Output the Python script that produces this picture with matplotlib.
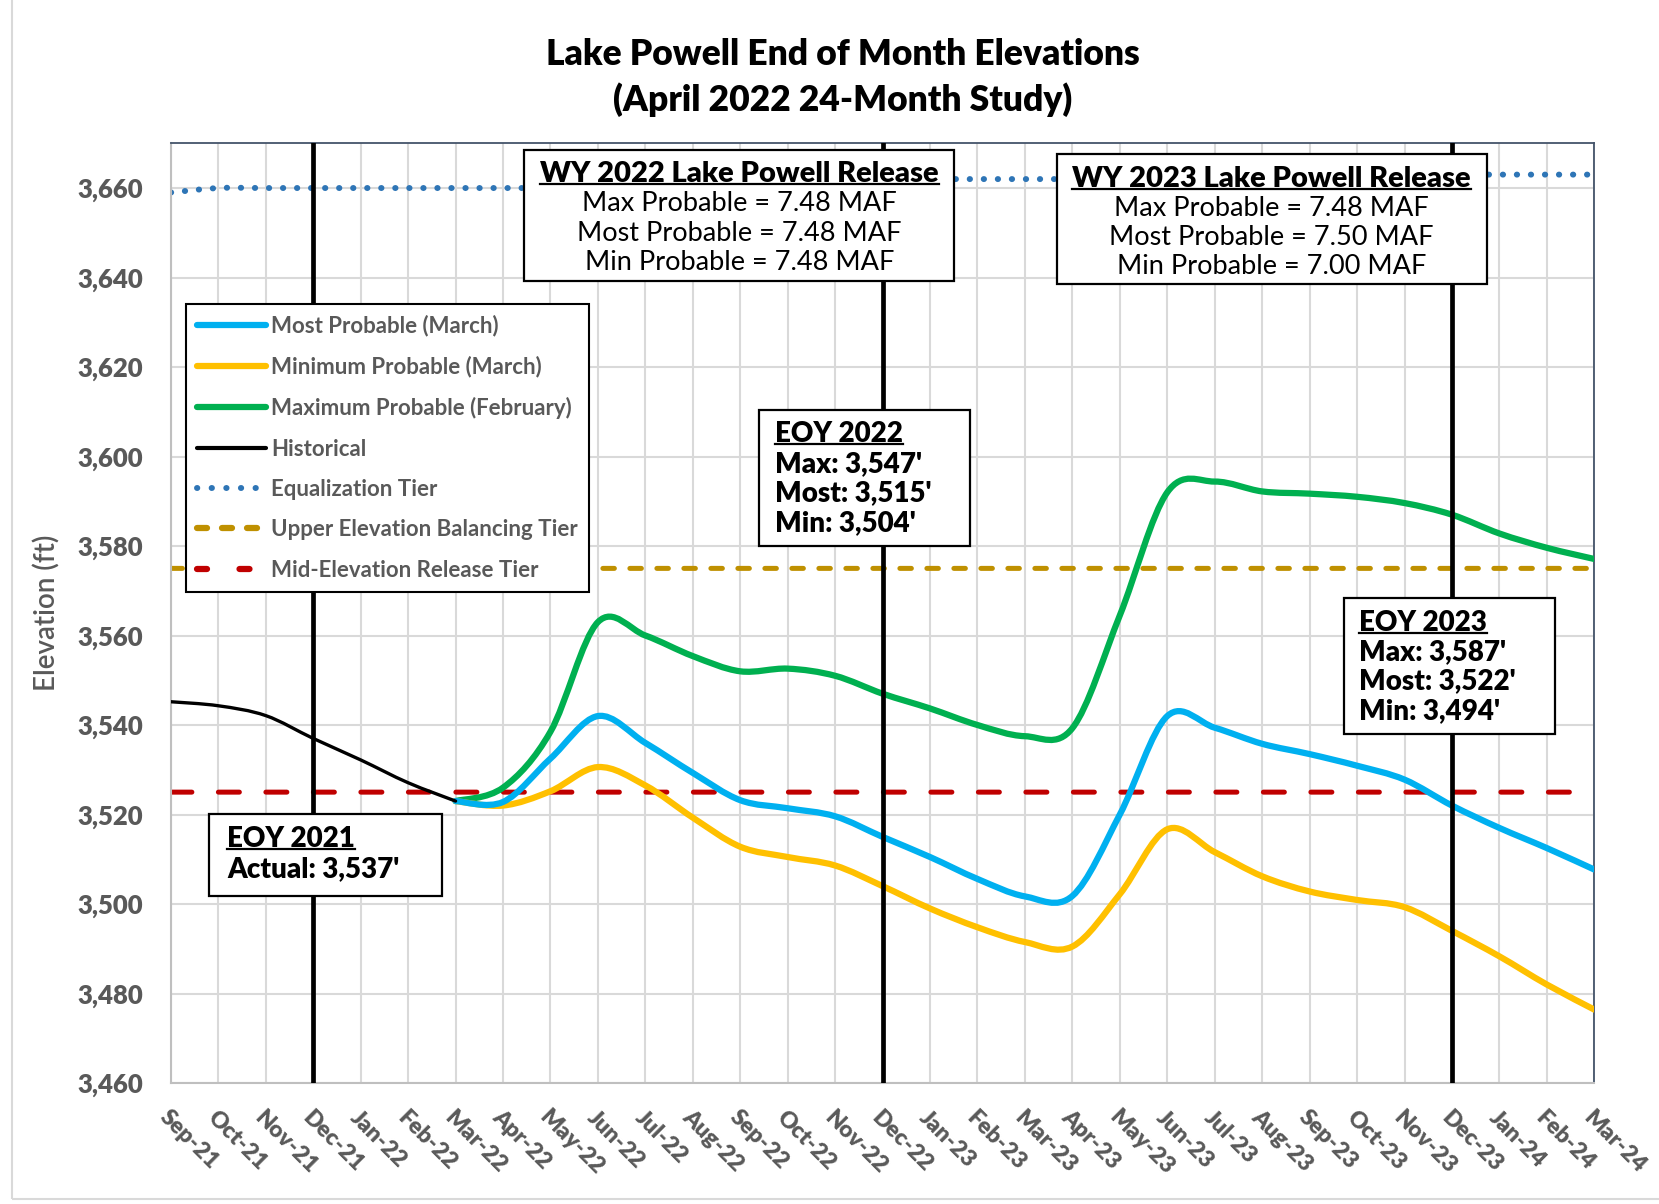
import numpy as np
import matplotlib.pyplot as plt
from matplotlib.path import Path
from matplotlib.patches import PathPatch, Rectangle
from matplotlib.lines import Line2D

plt.rcParams['font.family'] = ['Lato', 'DejaVu Sans']

months = ['Sep-21', 'Oct-21', 'Nov-21', 'Dec-21', 'Jan-22', 'Feb-22', 'Mar-22',
          'Apr-22', 'May-22', 'Jun-22', 'Jul-22', 'Aug-22', 'Sep-22', 'Oct-22',
          'Nov-22', 'Dec-22', 'Jan-23', 'Feb-23', 'Mar-23', 'Apr-23', 'May-23',
          'Jun-23', 'Jul-23', 'Aug-23', 'Sep-23', 'Oct-23', 'Nov-23', 'Dec-23',
          'Jan-24', 'Feb-24', 'Mar-24']

# historical Sep-21 .. Mar-22
historical = [3545.2, 3544.3, 3542.1, 3537.0, 3532.2, 3527.1, 3523.0]
# forecasts Mar-22 .. Mar-24
most_prob = [3523.0, 3522.8, 3532.5, 3542.0, 3536.0, 3529.3, 3523.2, 3521.4,
             3519.6, 3515.0, 3510.5, 3505.6, 3501.7, 3501.8, 3520.0, 3542.0,
             3539.4, 3535.8, 3533.5, 3530.9, 3527.8, 3522.0, 3517.0, 3512.5,
             3507.7]
min_prob = [3523.0, 3522.0, 3525.2, 3530.6, 3526.5, 3519.3, 3512.8, 3510.5,
            3508.6, 3504.0, 3499.0, 3494.8, 3491.5, 3490.5, 3502.2, 3516.7,
            3511.6, 3506.2, 3502.8, 3500.9, 3499.3, 3494.0, 3488.3, 3482.0,
            3476.4]
max_prob = [3523.0, 3526.0, 3538.5, 3563.0, 3560.0, 3555.4, 3552.0, 3552.6,
            3551.0, 3547.0, 3543.7, 3540.0, 3537.5, 3539.3, 3564.5, 3592.0,
            3594.4, 3592.2, 3591.7, 3591.0, 3589.6, 3587.0, 3582.8, 3579.6,
            3577.1]
equalization = [3659] + [3660] * 12 + [3662] * 12 + [3663] * 6
upper_balancing = [3575] * 31
mid_release = [3525] * 31

yticks = np.arange(3460, 3661, 20)


def smooth_path(x, y):
    # Excel style smoothed line as cubic bezier segments
    x = np.asarray(x, float)
    y = np.asarray(y, float)
    n = len(x)
    verts = [(x[0], y[0])]
    codes = [Path.MOVETO]
    for i in range(n - 1):
        p0 = np.array([x[max(i - 1, 0)], y[max(i - 1, 0)]])
        p1 = np.array([x[i], y[i]])
        p2 = np.array([x[i + 1], y[i + 1]])
        p3 = np.array([x[min(i + 2, n - 1)], y[min(i + 2, n - 1)]])
        c1 = p1 + (p2 - p0) / 6
        c2 = p2 - (p3 - p1) / 6
        verts += [tuple(c1), tuple(c2), tuple(p2)]
        codes += [Path.CURVE4] * 3
    return Path(verts, codes)


fig = plt.figure(figsize=(16.59, 12.04), dpi=100)
ax = fig.add_axes([0.103, 0.1005, 0.858, 0.7805])

xi = np.arange(len(months))
x_hist = xi[:len(historical)]
x_fc = xi[len(historical) - 1:]

grey = '#595959'


def add_line(x, y, color, lw, z, **kw):
    p = PathPatch(smooth_path(x, y), fill=False, edgecolor=color, lw=lw,
                  zorder=z, capstyle='round', joinstyle='round', **kw)
    ax.add_patch(p)


add_line(xi, equalization, '#2E75B6', 4.3, 2, linestyle=(0, (0.05, 2.3)))
add_line(xi, upper_balancing, '#BF9000', 3.6, 2, linestyle=(0, (2.3, 3.1)))
add_line(xi, mid_release, '#C00000', 3.6, 2, linestyle=(0, (4.2, 5.3)))
add_line(x_fc, max_prob, '#00B050', 4.5, 3)
add_line(x_fc, min_prob, '#FFC000', 4.5, 3)
add_line(x_fc, most_prob, '#00B0F0', 4.5, 4)
add_line(x_hist, historical, 'black', 2.4, 5)

for i, m in enumerate(months):
    if m.startswith('Dec'):
        ax.axvline(i, color='black', lw=3.4, zorder=6)

ax.set_xlim(0, len(months) - 1)
ax.set_ylim(3460, 3670)
ax.set_yticks(yticks)
ax.set_yticklabels([f'{v:,}' for v in yticks], fontsize=18.5, color=grey,
                   fontweight='heavy')
ax.set_xticks(xi)
ax.set_xticklabels(months, rotation=-45, ha='left', va='top',
                   rotation_mode='anchor', fontsize=16.5, color=grey,
                   fontweight='heavy')
ax.tick_params(axis='both', length=0)
ax.tick_params(axis='y', pad=20)
ax.tick_params(axis='x', pad=17)
ax.grid(True, color='#D9D9D9', lw=1.5, zorder=0)
ax.set_axisbelow(True)
for s in ['left', 'bottom']:
    ax.spines[s].set_color('#BFBFBF')
    ax.spines[s].set_linewidth(1.5)
for s in ['top', 'right']:
    ax.spines[s].set_color('#44546A')
    ax.spines[s].set_linewidth(1.3)

ax.set_ylabel('Elevation (ft)', fontsize=20, color=grey, labelpad=12,
              fontweight='semibold')
fig.text(0.508, 0.955, 'Lake Powell End of Month Elevations',
         ha='center', va='center', fontsize=25.5, fontweight='heavy')
fig.text(0.508, 0.917, '(April 2022 24-Month Study)',
         ha='center', va='center', fontsize=25.5, fontweight='heavy')

handles = [
    Line2D([], [], color='#00B0F0', lw=4.5, solid_capstyle='round'),
    Line2D([], [], color='#FFC000', lw=4.5, solid_capstyle='round'),
    Line2D([], [], color='#00B050', lw=4.5, solid_capstyle='round'),
    Line2D([], [], color='black', lw=3.0, solid_capstyle='round'),
    Line2D([], [], color='#2E75B6', lw=4.3, dashes=(0.05, 2.4), dash_capstyle='round'),
    Line2D([], [], color='#BF9000', lw=4.5, dashes=(1.6, 2.4), dash_capstyle='round'),
    Line2D([], [], color='#C00000', lw=4.5, dashes=(1.6, 5.2), dash_capstyle='round'),
]
labels = ['Most Probable (March)', 'Minimum Probable (March)',
          'Maximum Probable (February)', 'Historical', 'Equalization Tier',
          'Upper Elevation Balancing Tier', 'Mid-Elevation Release Tier']
leg = ax.legend(handles, labels, loc='upper left', bbox_to_anchor=(0.0103, 0.829),
                fontsize=16, labelcolor=grey, handlelength=3.1,
                handletextpad=0.25, labelspacing=0.87, borderpad=0.5,
                fancybox=False, framealpha=1, edgecolor='black',
                borderaxespad=0)
leg.get_frame().set_linewidth(1.5)
leg.set_zorder(10)
for t in leg.get_texts():
    t.set_fontweight('bold')

underline = []


def box(x0, x1, y0, y1):
    ax.add_patch(Rectangle((x0, y0), x1 - x0, y1 - y0, facecolor='white',
                           edgecolor='black', lw=1.6, zorder=11))


# WY 2022 release box
box(7.45, 16.5, 3639.2, 3668.5)
t = ax.text(11.98, 3663.1, 'WY 2022 Lake Powell Release', ha='center',
            va='center', fontsize=21, fontweight='heavy', zorder=12)
underline.append(t)
for yy, s in zip([3656.5, 3649.9, 3643.3],
                 ['Max Probable = 7.48 MAF', 'Most Probable = 7.48 MAF',
                  'Min Probable = 7.48 MAF']):
    ax.text(11.98, yy, s, ha='center', va='center', fontsize=19.5, zorder=12)

# WY 2023 release box
box(18.67, 27.73, 3638.5, 3667.6)
t = ax.text(23.2, 3662.1, 'WY 2023 Lake Powell Release', ha='center',
            va='center', fontsize=21, fontweight='heavy', zorder=12)
underline.append(t)
for yy, s in zip([3655.5, 3648.9, 3642.5],
                 ['Max Probable = 7.48 MAF', 'Most Probable = 7.50 MAF',
                  'Min Probable = 7.00 MAF']):
    ax.text(23.2, yy, s, ha='center', va='center', fontsize=19.5, zorder=12)


def eoy(x0, x1, y0, y1, tx, lines_y, lines):
    box(x0, x1, y0, y1)
    for k, (yy, s) in enumerate(zip(lines_y, lines)):
        tt = ax.text(tx, yy, s, ha='left', va='center', fontsize=20,
                     fontweight='heavy', zorder=12)
        if k == 0:
            underline.append(tt)


eoy(12.4, 16.84, 3580.0, 3610.4, 12.74, [3605.0, 3598.4, 3591.8, 3585.1],
    ['EOY 2022', "Max: 3,547'", "Most: 3,515'", "Min: 3,504'"])
eoy(24.72, 29.18, 3537.9, 3568.4, 25.05, [3562.7, 3556.3, 3549.7, 3543.1],
    ['EOY 2023', "Max: 3,587'", "Most: 3,522'", "Min: 3,494'"])
eoy(0.80, 5.71, 3501.8, 3520.2, 1.18, [3514.5, 3507.9],
    ['EOY 2021', "Actual: 3,537'"])

# chart area border
fig.add_artist(Rectangle((0.007, 0.004), 1.2, 1.2, transform=fig.transFigure,
                         fill=False, edgecolor='#D9D9D9', lw=1.5))

fig.canvas.draw()
r = fig.canvas.get_renderer()
inv = fig.transFigure.inverted()
for t in underline:
    bb = t.get_window_extent(r)
    (xa, ya), (xb, _) = inv.transform([(bb.x0, bb.y0 + 3), (bb.x1, bb.y0)])
    fig.add_artist(Line2D([xa, xb], [ya, ya], transform=fig.transFigure,
                          color='black', lw=1.6, zorder=13))

fig.savefig('out.png', dpi=100)
